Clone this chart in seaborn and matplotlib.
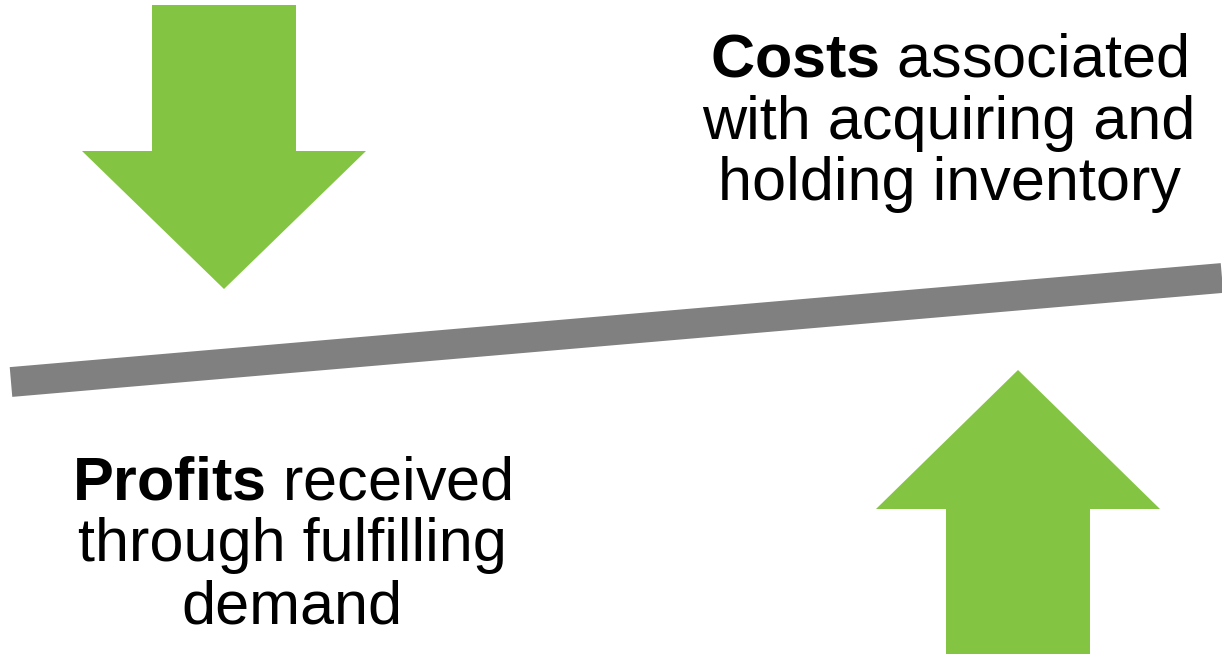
import numpy as np
import pandas as pd
import matplotlib
matplotlib.use("Agg")
import matplotlib.pyplot as plt
import seaborn as sns

# Diagram geometry in image pixels (y grows downward)
beam_x = [11, 1222]
beam_y = [382, 278]

# arrows: centre x, tail end y, head base y, tip y, shaft half width, head half width
arrow_names = ["costs", "profits"]
arrow_cx = [224, 1018]
arrow_tail_y = [5, 654]
arrow_base_y = [151, 509]
arrow_tip_y = [289, 370]
arrow_shaft_hw = [72, 72]
arrow_head_hw = [142, 142]

labels = [
    r"$\mathbf{Costs}$ associated" + "\nwith acquiring and\nholding inventory",
    r"$\mathbf{Profits}$ received" + "\nthrough fulfilling\ndemand",
]
label_x = [949, 292]
label_y = [123, 546]

GREEN = "#84C443"
GREY = "#808080"

sns.set_theme(style="white")
plt.rcParams["font.family"] = ["Liberation Sans", "DejaVu Sans"]
plt.rcParams["mathtext.fontset"] = "custom"
plt.rcParams["mathtext.rm"] = "Liberation Sans"
plt.rcParams["mathtext.bf"] = "Liberation Sans:bold"


def arrow_polygon(cx, tail, base, tip, shw, hhw):
    xs = [cx - shw, cx + shw, cx + shw, cx + hhw, cx, cx - hhw, cx - shw]
    ys = [tail, tail, base, base, tip, base, base]
    return xs, ys


fig = plt.figure(figsize=(12.22, 6.54), dpi=100)
ax = fig.add_axes([0, 0, 1, 1])

# tilted beam of the balance
beam = pd.DataFrame({"x": beam_x, "y": beam_y})
sns.lineplot(data=beam, x="x", y="y", ax=ax, color=GREY, linewidth=21.5,
             solid_capstyle="butt", legend=False)

for i in range(len(arrow_names)):
    xs, ys = arrow_polygon(arrow_cx[i], arrow_tail_y[i], arrow_base_y[i],
                           arrow_tip_y[i], arrow_shaft_hw[i], arrow_head_hw[i])
    ax.fill(xs, ys, color=GREEN, linewidth=0)

for txt, x, y in zip(labels, label_x, label_y):
    ax.text(x, y, txt, ha="center", va="center", multialignment="center",
            fontsize=44, color="black", linespacing=1.11)

ax.set_xlim(0, 1222)
ax.set_ylim(654, 0)
ax.axis("off")

fig.savefig("out.png", dpi=100, facecolor="white")
